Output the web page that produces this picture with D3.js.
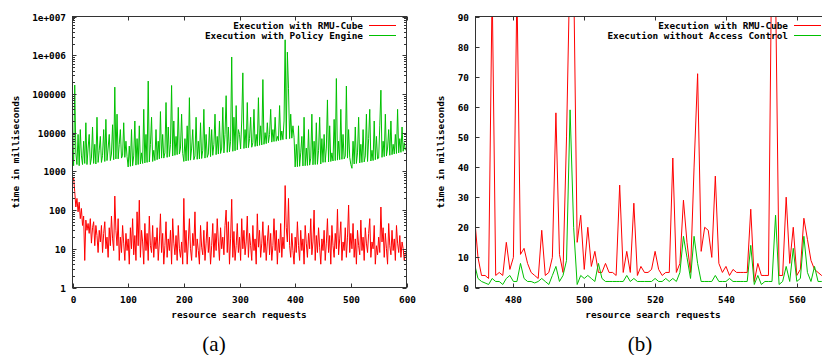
<!DOCTYPE html>
<html>
<head>
<meta charset="utf-8">
<script src="https://cdn.jsdelivr.net/npm/d3@7"></script>
<style>
  body { margin: 0; background: #fff; }
  svg text { font-family: "DejaVu Sans Mono", monospace; font-weight: bold; font-size: 9.4px; fill: #000; }
  svg text.caption { font-family: "Liberation Serif", serif; font-weight: normal; font-size: 21px; }
</style>
</head>
<body>
<svg id="chart" width="822" height="355"></svg>
<script>
// ---- panel (a): one value every 2 requests, from request 0 ----
const stepA = 2;
const redA = [
  550,700,300,120,200,90,160,60,110,40,70,5,55,30,45,25,60,14,35,50,12,40,22,8,30,
  15,40,8,25,50,10,20,6,35,12,70,18,9,230,30,12,60,5,20,8,40,14,5,25,9,
  18,4,35,10,60,7,22,5,90,12,180,6,30,15,4,45,9,25,5,70,12,8,40,6,20,
  10,35,5,15,80,8,25,4,12,50,6,18,9,30,4,60,14,7,22,5,40,10,6,15,4,
  200,8,30,4,15,60,10,5,25,12,90,6,18,9,4,40,11,7,30,5,14,50,8,20,4,
  12,45,6,25,9,60,15,5,35,10,20,7,40,100,8,50,4,18,190,6,28,5,12,45,8,
  20,5,60,10,30,7,15,70,6,25,12,5,40,9,18,4,80,11,30,6,14,50,8,22,5,
  15,40,7,25,5,12,60,9,30,4,18,8,45,6,20,10,430,35,15,200,12,6,25,9,4,
  20,8,50,12,5,30,9,18,4,40,14,6,25,10,60,7,15,100,5,22,8,35,11,4,18,
  9,30,5,14,60,8,22,4,40,12,6,25,10,105,7,18,50,5,15,9,35,6,20,135,8,
  25,10,45,6,18,4,30,12,7,55,9,20,5,35,14,8,25,60,6,15,10,40,4,12,7,
  20,8,120,15,35,6,25,10,4,45,12,7,30,9,18,5,40,14,8,22,6,15,10,5,8
];
const greenA = [
  5500,1400,170000,3000,1500,9000,1400,12000,2500,1500,6000,1600,18000,1500,4000,9000,1500,2200,14000,1600,5000,1550,25000,1700,3500,
  8000,1700,2600,12000,1800,22000,1900,4000,9000,1900,2800,16000,2000,150000,2100,30000,2100,5000,12000,2200,2600,18000,2300,6000,2400,
  1300,4500,1350,12000,1400,2500,20000,1450,7000,1500,15000,1550,3000,1600,40000,1650,9000,1700,215000,1750,5000,25000,1800,3500,1900,
  12000,2000,6000,2100,35000,2200,9000,2200,3000,60000,2300,14000,2400,5000,165000,2500,20000,2600,8000,2700,45000,2800,4000,30000,2900,
  1800,7000,1850,15000,1900,80000,1950,4000,12000,2000,2500,25000,2050,6000,2100,18000,2150,3500,40000,2200,9000,2300,2800,14000,2400,
  12000,2600,5000,30000,2700,8000,2800,20000,2900,4000,45000,3000,9000,90000,3100,14000,3200,6000,900000,3300,25000,3400,50000,3600,12000,
  9000,3800,20000,350000,3900,12000,4000,60000,4100,7000,25000,4200,5500,40000,4400,9000,4500,80000,4700,15000,4800,235000,5000,10000,5200,
  18000,5500,9000,40000,5700,12000,5900,25000,6000,8000,6200,50000,6400,11000,6600,20000,2500000,6800,1200000,140000,7000,30000,7200,15000,7600,
  1300,5000,1320,15000,1350,3000,8000,1380,25000,1400,4000,1420,12000,1450,2200,30000,1480,6000,1500,18000,1520,3500,25000,1550,7000,
  1700,9000,1720,4000,70000,1750,15000,1800,3000,1850,22000,1900,250000,1950,6000,2000,40000,2050,9000,2100,2500,160000,2200,12000,2300,
  1500,1200,6000,1550,14000,1600,3000,25000,1650,5000,1700,12000,1750,2500,30000,1800,7000,40000,1850,3500,1900,20000,2000,8000,2100,
  2200,15000,125000,2300,6000,2400,30000,2500,4000,12000,2600,20000,2700,5000,2800,9000,2900,40000,3000,7000,3100,14000,3300,5500,3500
];
const xTicksA = [0, 100, 200, 300, 400, 500, 600];
const yTicksA = [1, 10, 100, 1000, 10000, 100000, 1e6, 1e7];
const yTickLabelsA = ["1", "10", "100", "1000", "10000", "100000", "1e+006", "1e+007"];
const legendA = ["Execution with RMU-Cube", "Execution with Policy Engine"];

// ---- panel (b): one value per request, from request 469 ----
const startB = 469;
const redB = [
  24,10,4,4,3,100,4,5,4,15,
  6,10,100,11,13,8,5,4,3,19,
  4,5,10,58,11,5,50,110,105,15,
  24,6,20,7,12,5,5,8,5,5,
  4,34,5,12,5,28,4,7,5,5,
  6,12,6,4,5,5,43,5,8,29,
  15,5,40,71,12,20,19,10,37,8,
  5,7,4,6,5,5,5,5,26,2,
  8,4,4,4,120,100,4,4,30,8,
  20,4,6,23,16,9,6,5,4,4
];
const greenB = [
  8,3,2,1.5,1,3,2,2,1,3,
  4,2,2,8,3,2,2,1.5,2,3,
  2,1,4,7,2,4,9,59,20,1,
  4,3,4,3,2,8,3,2,2,2,
  2,2,2,4,2,3,2,2,2,2,
  2,3,2,2,3,2,3,2,5,17,
  10,3,17,8,2,2,2,2,4,2,
  2,2,3,2,2,2,2,2,14,1,
  4,1,2,2,2,24,1,2,7,2,
  13,2,3,17,5,2,7,2,2,2
];
const xTicksB = [480, 500, 520, 540, 560];
const yTicksB = [0, 10, 20, 30, 40, 50, 60, 70, 80, 90];
const legendB = ["Execution with RMU-Cube", "Execution without Access Control"];

const colRed = "#ff0000";
const colGreen = "#00c000";
const colBorder = "#333";

const svg = d3.select("#chart");

// gnuplot style frame: ticks point inward, mirrored on the opposite side
function drawFrame(g, x, y, xTicks, yTicks, xFmt, yFmt, minorY) {
  const [x0, x1] = x.range();
  const [y0, y1] = y.range(); // y0 bottom, y1 top
  const minor = minorY || [];
  minor.forEach(v => {
    g.append("line").attr("x1", x0).attr("x2", x0 + 2.5).attr("y1", Math.round(y(v)) + 0.5).attr("y2", Math.round(y(v)) + 0.5).attr("stroke", colBorder);
    g.append("line").attr("x1", x1).attr("x2", x1 - 2.5).attr("y1", Math.round(y(v)) + 0.5).attr("y2", Math.round(y(v)) + 0.5).attr("stroke", colBorder);
  });
  yTicks.forEach((v, i) => {
    const yy = Math.round(y(v)) + 0.5;
    g.append("line").attr("x1", x0).attr("x2", x0 + 4).attr("y1", yy).attr("y2", yy).attr("stroke", colBorder);
    g.append("line").attr("x1", x1).attr("x2", x1 - 4).attr("y1", yy).attr("y2", yy).attr("stroke", colBorder);
    g.append("text").attr("x", x0 - 6.5).attr("y", yy).attr("dy", "0.35em")
      .attr("text-anchor", "end").text(yFmt(v, i));
  });
  xTicks.forEach((v, i) => {
    const xx = Math.round(x(v)) + 0.5;
    g.append("line").attr("x1", xx).attr("x2", xx).attr("y1", y0).attr("y2", y0 - 4).attr("stroke", colBorder);
    g.append("line").attr("x1", xx).attr("x2", xx).attr("y1", y1).attr("y2", y1 + 4).attr("stroke", colBorder);
    g.append("text").attr("x", xx).attr("y", y0 + 12).attr("dy", "0.35em")
      .attr("text-anchor", "middle").text(xFmt(v, i));
  });
  g.append("rect").attr("x", x0).attr("y", y1).attr("width", x1 - x0).attr("height", y0 - y1)
    .attr("fill", "none").attr("stroke", colBorder).attr("stroke-width", 1);
}

function drawSeries(g, clipId, x, y, xOf, series) {
  const [x0, x1] = x.range();
  const [y0, y1] = y.range();
  svg.append("clipPath").attr("id", clipId).append("rect")
    .attr("x", x0).attr("y", y1).attr("width", x1 - x0).attr("height", y0 - y1);
  const cg = g.append("g").attr("clip-path", `url(#${clipId})`);
  series.forEach(s => {
    cg.append("path").datum(s.values)
      .attr("d", d3.line().x((d, i) => x(xOf(i))).y(d => y(d)))
      .attr("fill", "none").attr("stroke", s.color).attr("stroke-width", 1);
  });
}

function drawLegend(g, xEnd, labels, colors) {
  labels.forEach((t, i) => {
    const yy = 26 + i * 10;
    g.append("text").attr("x", xEnd).attr("y", yy).attr("dy", "0.35em").attr("text-anchor", "end").text(t);
    g.append("line").attr("x1", xEnd + 6).attr("x2", xEnd + 33).attr("y1", yy - 0.5).attr("y2", yy - 0.5)
      .attr("stroke", colors[i]).attr("stroke-width", 1);
  });
}

// ---------- panel (a) ----------
const xA = d3.scaleLinear().domain([0, 600]).range([72.5, 406.5]);
const yA = d3.scaleLog().domain([1, 1e7]).range([287.5, 16.5]);
const gA = svg.append("g");
drawSeries(gA, "clipA", xA, yA, i => i * stepA, [
  { values: greenA, color: colGreen },
  { values: redA, color: colRed }
]);
const minorA = yA.ticks().filter(v => !yTicksA.includes(v));
drawFrame(gA, xA, yA, xTicksA, yTicksA, v => String(v), (v, i) => yTickLabelsA[i], minorA);
drawLegend(gA, 363, legendA, [colRed, colGreen]);
gA.append("text").attr("transform", "translate(16,152) rotate(-90)").attr("text-anchor", "middle")
  .attr("dy", "0.35em").text("time in milliseconds");
gA.append("text").attr("x", 239).attr("y", 315).attr("dy", "0.35em").attr("text-anchor", "middle")
  .text("resource search requests");
gA.append("text").attr("class", "caption").attr("x", 214).attr("y", 351).attr("text-anchor", "middle").text("(a)");

// ---------- panel (b) ----------
const xB = d3.scaleLinear().domain([469.3, 570]).range([475.5, 475.5 + 100.7 * 3.5425]);
const yB = d3.scaleLinear().domain([0, 90]).range([287.5, 16.5]);
const gB = svg.append("g");
drawSeries(gB, "clipB", xB, yB, i => startB + i, [
  { values: redB, color: colRed },
  { values: greenB, color: colGreen }
]);
drawFrame(gB, xB, yB, xTicksB, yTicksB, v => String(v), v => String(v), null);
drawLegend(gB, 788, legendB, [colRed, colGreen]);
gB.append("text").attr("transform", "translate(441,152) rotate(-90)").attr("text-anchor", "middle")
  .attr("dy", "0.35em").text("time in milliseconds");
gB.append("text").attr("x", 653).attr("y", 315).attr("dy", "0.35em").attr("text-anchor", "middle")
  .text("resource search requests");
gB.append("text").attr("class", "caption").attr("x", 640).attr("y", 351).attr("text-anchor", "middle").text("(b)");
</script>
</body>
</html>
